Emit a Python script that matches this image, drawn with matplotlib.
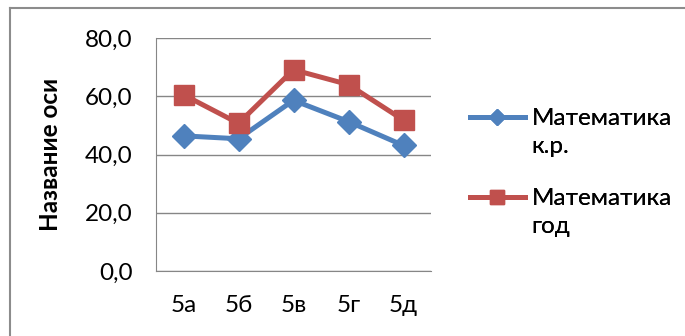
import matplotlib
matplotlib.use("Agg")
import matplotlib.pyplot as plt
from matplotlib.lines import Line2D

# data
classes = ['5а', '5б', '5в', '5г', '5д']
kr = [46.4, 45.4, 58.6, 51.3, 43.1]
year = [60.5, 50.7, 69.1, 64.0, 51.8]
yticks = [0, 20, 40, 60, 80]
series_names = [('Математика', 'к.р.'), ('Математика', 'год')]

plt.rcParams['font.family'] = ['Lato', 'DejaVu Sans']

fig = plt.figure(figsize=(6.85, 3.36), dpi=100)
ax = fig.add_axes([156 / 685, 1 - 271 / 336, 275 / 685, 233 / 336])

blue = '#4F81BD'
red = '#C0504D'
x = range(len(classes))
l1, = ax.plot(x, kr, color=blue, lw=3.6, marker='D', ms=12, mec=blue)
l2, = ax.plot(x, year, color=red, lw=3.6, marker='s', ms=14, mec=red)

ax.set_xlim(-0.5, len(classes) - 0.5)
ax.set_ylim(0, 80)
ax.set_yticks(yticks)
ax.set_yticklabels([f'{v:.1f}'.replace('.', ',') for v in yticks])
ax.set_xticks(list(x))
ax.set_xticklabels(classes)
ax.tick_params(length=0, labelsize=17.5)
ax.tick_params(axis='y', pad=17)
ax.tick_params(axis='x', pad=17)
ax.grid(axis='y', color='#868686', lw=1)
ax.set_axisbelow(True)
for s in ['top', 'right']:
    ax.spines[s].set_visible(False)
for s in ['left', 'bottom']:
    ax.spines[s].set_color('#868686')
ax.set_ylabel('Название оси', fontsize=17.5, fontweight='bold')
ax.yaxis.set_label_coords(-(156 - 62) / 275, 0.5)

# legend: handle next to the first line of each two-line label
blank = Line2D([], [], color='none')
tops = [108, 188]
for handle, names, top in zip([l1, l2], series_names, tops):
    leg = fig.legend([handle, blank], list(names), loc='upper left',
                     bbox_to_anchor=(470 / 685, 1 - top / 336),
                     frameon=False, fontsize=17.5, handlelength=2.26,
                     labelspacing=0.3, handletextpad=0.28, markerscale=0.72,
                     borderaxespad=0, borderpad=0)
    fig.add_artist(leg)

# outer chart frame (top and left edges visible in the crop)
fig.add_artist(Line2D([10 / 685, 1], [1 - 8 / 336, 1 - 8 / 336], color='#8c8c8c', lw=1.5))
fig.add_artist(Line2D([10 / 685, 10 / 685], [0, 1 - 8 / 336], color='#8c8c8c', lw=1.5))

fig.savefig('out.png', dpi=100)
